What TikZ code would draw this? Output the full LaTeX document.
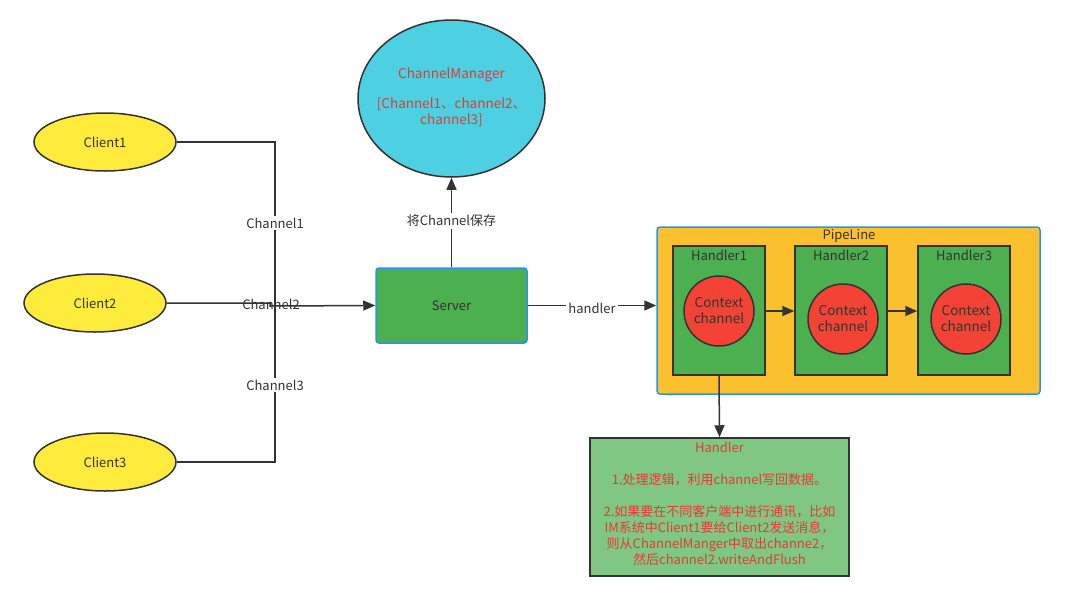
\documentclass[tikz,border=0pt]{standalone}
\usepackage{fontspec}
\setmainfont{Noto Sans CJK SC}
\usetikzlibrary{shapes.geometric,arrows.meta}
\definecolor{cyellow}{HTML}{FFEB3B}
\definecolor{ccyan}{HTML}{4DD0E1}
\definecolor{cgreen}{HTML}{4CAF50}
\definecolor{cblue}{HTML}{2196F3}
\definecolor{corange}{HTML}{FBC02D}
\definecolor{cred}{HTML}{F44336}
\definecolor{clgreen}{HTML}{81C784}
\definecolor{tred}{HTML}{E53935}
\definecolor{dk}{HTML}{333333}
\tikzset{
  every node/.style={font=\fontsize{13}{16}\selectfont, text=dk, inner sep=0pt},
  client/.style={ellipse, draw=dk, line width=1.5pt, fill=cyellow, minimum width=142pt, minimum height=58pt},
  conn/.style={draw=dk, line width=1.5pt},
  arr/.style={conn, -{Triangle[length=12pt,width=10pt]}},
  lbl/.style={fill=white, inner sep=2pt},
  hbox/.style={draw=dk, line width=1.5pt, fill=cgreen, minimum width=92pt, minimum height=129pt},
  ctx/.style={circle, draw=dk, line width=1.5pt, fill=cred, minimum size=70pt, align=center, font=\fontsize{13.5}{16}\selectfont},
}
\begin{document}
\begin{tikzpicture}[x=1pt,y=-1pt]
\useasboundingbox (0,0) rectangle (1065,600);
% clients
\node[client] (c1) at (105,142) {Client1};
\node[client] (c2) at (95,303) {Client2};
\node[client] (c3) at (105,462) {Client3};
% server
\node[draw=cblue, line width=1.5pt, fill=cgreen, rounded corners=3pt, minimum width=151pt, minimum height=75pt] (srv) at (451.5,305.5) {Server};
% channel manager
\node[ellipse, draw=dk, line width=1.5pt, fill=ccyan, minimum width=187pt, minimum height=157pt] (cm) at (451.5,98.5) {};
\node[text=tred, align=center, font=\fontsize{13.5}{16}\selectfont] (cmt) at (451.5,97) {ChannelManager\\[14pt][Channel1、channel2、\\channel3]};
% connectors clients -> server
\coordinate (j) at (275,306);
\draw[conn] (c1.east) -| (j);
\draw[conn] (c3.east) -| (j);
\draw[arr] (c2.east) -- (270,303) -- (270,306) -- (srv.west);
\node[lbl] (l1) at (275,223) {Channel1};
\node (l2) at (271,304) {Channel2};
\node[lbl] (l3) at (275,385) {Channel3};
% server -> channel manager
\draw[arr] (srv.north) -- (cm.south);
\node[lbl] (ls) at (451.5,221) {将Channel保存};
% pipeline
\node[draw=cblue, line width=1.5pt, fill=corange, rounded corners=3pt, minimum width=383pt, minimum height=167pt] (pl) at (848.5,310.5) {};
\node (plt) at (849,236) {PipeLine};
\node[hbox] (h1) at (719,310.5) {};
\node[hbox] (h2) at (841,310.5) {};
\node[hbox] (h3) at (964,310.5) {};
\node (h1t) at (719,255) {Handler1};
\node (h2t) at (841,255) {Handler2};
\node (h3t) at (964,255) {Handler3};
\node[ctx] (x1) at (719,311) {Context\\channel};
\node[ctx] (x2) at (843,319) {Context\\channel};
\node[ctx] (x3) at (966,319) {Context\\channel};
\draw[arr] (h1.east |- 0,311) -- (h2.west |- 0,311);
\draw[arr] (h2.east |- 0,311) -- (h3.west |- 0,311);
% server -> pipeline
\draw[arr] (srv.east) -- (pl.west |- srv.east);
\node[lbl] (lh) at (592,308) {handler};
% handler box
\node[draw=dk, line width=1.5pt, fill=clgreen, minimum width=259pt, minimum height=138pt] (hb) at (719.5,507) {};
\node[text=tred, align=center, font=\fontsize{13}{16}\selectfont] (hbt) at (719.5,504) {Handler\\[16pt]1.处理逻辑，利用channel写回数据。\\[16pt]2.如果要在不同客户端中进行通讯，比如\\IM系统中Client1要给Client2发送消息，\\则从ChannelManger中取出channe2，\\然后channel2.writeAndFlush};
\draw[arr] (h1.south) -- (hb.north);
\end{tikzpicture}
\end{document}
